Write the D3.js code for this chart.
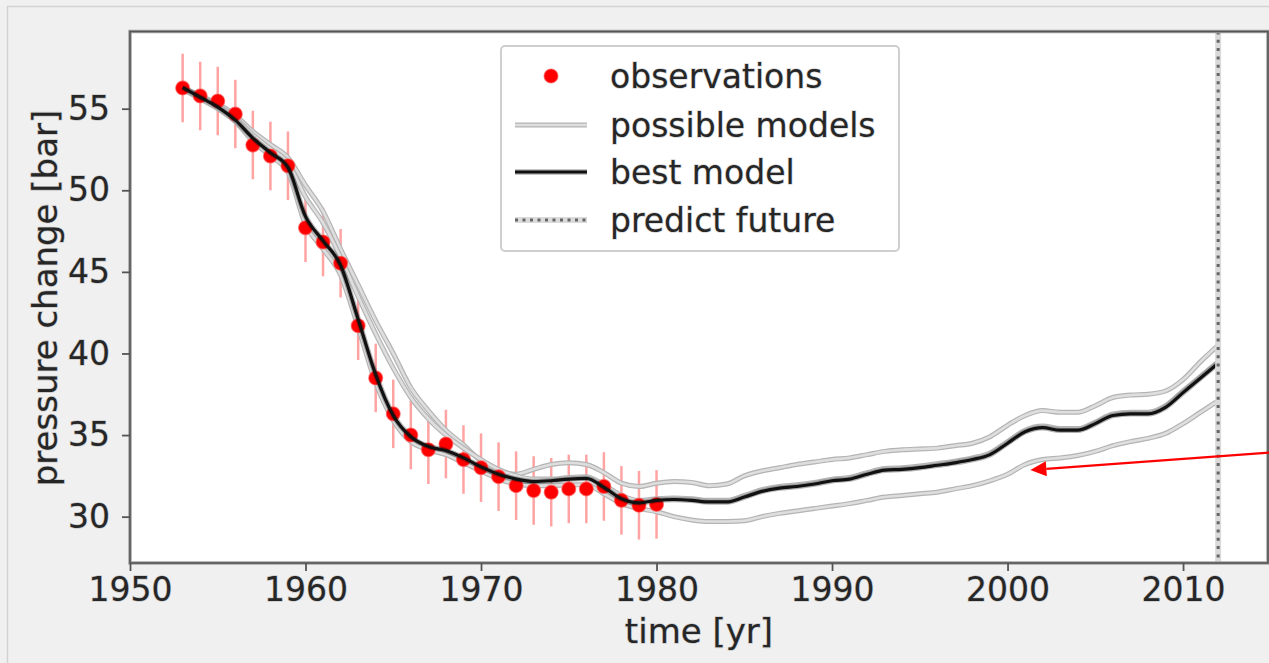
<!DOCTYPE html>
<html>
<head>
<meta charset="utf-8">
<script src="https://cdn.jsdelivr.net/npm/d3@7"></script>
<style>
  html, body { margin: 0; padding: 0; background: #f0f0f0; }
  svg { display: block; }
  text { font-family: "DejaVu Sans", sans-serif; fill: #262626; }
</style>
</head>
<body>
<div id="vis"></div>
<script>
// observations (bar) with error
var obsYears = [1953, 1954, 1955, 1956, 1957, 1958, 1959, 1960, 1961, 1962, 1963, 1964, 1965, 1966,
                1967, 1968, 1969, 1970, 1971, 1972, 1973, 1974, 1975, 1976, 1977, 1978, 1979, 1980];
var obsValues = [56.27, 55.78, 55.47, 54.67, 52.77, 52.1, 51.5, 47.7, 46.83, 45.53, 41.7, 38.5, 36.3, 35.0,
                 34.1, 34.45, 33.5, 33.0, 32.45, 31.9, 31.6, 31.5, 31.7, 31.7, 31.85, 31.0, 30.7, 30.75];
var obsErrors = [2.1, 2.1, 2.1, 2.1, 2.1, 2.1, 2.1, 2.1, 2.1, 2.1, 2.1, 2.1, 2.1, 2.1,
                 2.1, 2.1, 2.1, 2.1, 2.1, 2.1, 2.1, 2.1, 2.1, 2.1, 2.1, 2.1, 2.1, 2.1];

var modelYears = [1953, 1954, 1955, 1956, 1957, 1958, 1959, 1960, 1961, 1962, 1963, 1964, 1965, 1966, 1967,
                  1968, 1969, 1970, 1971, 1972, 1973, 1974, 1975, 1976, 1977, 1978, 1979, 1980, 1981, 1982,
                  1983, 1984, 1985, 1986, 1987, 1988, 1989, 1990, 1991, 1992, 1993, 1994, 1995, 1996, 1997,
                  1998, 1999, 2000, 2001, 2002, 2003, 2004, 2005, 2006, 2007, 2008, 2009, 2010, 2011, 2012];

var bestModel = [56.3, 55.7, 55.1, 54.3, 53.2, 52.3, 51.4, 48.4, 46.9, 45.4, 42.1, 38.7, 36.2, 34.9, 34.3,
                 34.05, 33.6, 33.05, 32.6, 32.3, 32.15, 32.2, 32.3, 32.35, 31.8, 31.1, 30.85, 31.0, 31.05, 31.0,
                 30.9, 30.9, 31.2, 31.55, 31.75, 31.85, 32.0, 32.2, 32.3, 32.6, 32.85, 32.9, 33.0, 33.15, 33.3,
                 33.5, 33.8, 34.5, 35.2, 35.45, 35.3, 35.3, 35.7, 36.2, 36.3, 36.3, 36.7, 37.6, 38.5, 39.4];

var modelUpper = [56.3, 55.8, 55.3, 54.6, 53.6, 52.8, 52.0, 50.3, 48.7, 46.4, 44.2, 42.0, 40.0, 37.9, 36.5,
                  35.3, 34.4, 33.4, 32.8, 32.6, 32.9, 33.2, 33.3, 33.2, 32.7, 32.05, 31.85, 32.05, 32.15, 32.1,
                  31.9, 32.0, 32.5, 32.8, 33.0, 33.2, 33.35, 33.5, 33.6, 33.8, 34.0, 34.1, 34.15, 34.2, 34.35,
                  34.5, 34.9, 35.6, 36.2, 36.5, 36.4, 36.4, 36.8, 37.3, 37.45, 37.5, 37.7, 38.4, 39.5, 40.5];

var modelMid = [56.3, 55.75, 55.2, 54.45, 53.4, 52.55, 51.7, 49.6, 48.0, 45.9, 43.5, 41.2, 39.1, 37.3, 36.0,
                35.0, 34.2, 33.5, 32.9, 32.5, 32.3, 32.3, 32.4, 32.45, 31.95, 31.3, 31.0, 31.1, 31.15, 31.1,
                31.0, 31.0, 31.3, 31.65, 31.85, 31.95, 32.1, 32.3, 32.4, 32.7, 32.95, 33.0, 33.1, 33.25, 33.4,
                33.6, 33.9, 34.6, 35.3, 35.55, 35.4, 35.4, 35.8, 36.3, 36.4, 36.4, 36.8, 37.7, 38.6, 39.5];

var modelLower = [56.2, 55.6, 55.0, 54.2, 53.0, 52.1, 51.1, 47.9, 46.4, 44.8, 41.6, 38.2, 35.9, 34.6, 34.1,
                  33.8, 33.3, 32.8, 32.3, 32.0, 31.9, 31.9, 31.95, 31.95, 31.4, 30.8, 30.5, 30.3, 30.0, 29.8,
                  29.7, 29.7, 29.75, 30.0, 30.2, 30.35, 30.5, 30.65, 30.8, 31.0, 31.2, 31.3, 31.4, 31.5, 31.7,
                  31.9, 32.2, 32.6, 33.2, 33.5, 33.6, 33.75, 34.0, 34.35, 34.6, 34.8, 35.1, 35.7, 36.4, 37.1];

var futureYear = 2012;
var xTicks = [1950, 1960, 1970, 1980, 1990, 2000, 2010];
var yTicks = [30, 35, 40, 45, 50, 55];
var legendLabels = ["observations", "possible models", "best model", "predict future"];
// arrow annotation: [year, value] of tail and head
var arrowTail = [2016.5, 34.05];
var arrowHead = [2001.3, 32.86];

(function(){
var width = 1269, height = 663;
var pLeft = 130, pRight = 1268, pTop = 31.5, pBottom = 563;

var svg = d3.select("#vis").append("svg").attr("width", width).attr("height", height);

svg.append("rect").attr("width", width).attr("height", height).attr("fill", "#f0f0f0");
// widget frame
svg.append("path").attr("d", "M7.5," + height + "V6.5H" + width)
   .attr("fill", "none").attr("stroke", "#d2d2d2").attr("stroke-width", 1.5);

var x = d3.scaleLinear().domain([1950, 2014.84]).range([pLeft, pRight]);
var y = d3.scaleLinear().domain([27.16, 59.73]).range([pBottom, pTop]);

svg.append("rect").attr("x", pLeft).attr("y", pTop).attr("width", pRight - pLeft).attr("height", pBottom - pTop)
   .attr("fill", "#fff");

svg.append("clipPath").attr("id", "clip").append("rect")
   .attr("x", pLeft).attr("y", pTop).attr("width", pRight - pLeft).attr("height", pBottom - pTop);

var plot = svg.append("g").attr("clip-path", "url(#clip)");

var obs = obsYears.map(function(d, i){ return {year: d, value: obsValues[i], err: obsErrors[i]}; });

// error bars
plot.selectAll(".errbar").data(obs).enter().append("line")
    .attr("class", "errbar")
    .attr("x1", function(d){ return x(d.year); })
    .attr("x2", function(d){ return x(d.year); })
    .attr("y1", function(d){ return y(d.value - d.err); })
    .attr("y2", function(d){ return y(d.value + d.err); })
    .attr("stroke", "#ffa3a3").attr("stroke-width", 2.5);

var line = d3.line()
    .curve(d3.curveMonotoneX)
    .x(function(d, i){ return x(modelYears[i]); })
    .y(function(d){ return y(d); });

[modelUpper, modelMid, modelLower].forEach(function(series){
  plot.append("path").datum(series).attr("d", line)
      .attr("fill", "none").attr("stroke", "#b4b4b4").attr("stroke-width", 5);
  plot.append("path").datum(series).attr("d", line)
      .attr("fill", "none").attr("stroke", "#dedede").attr("stroke-width", 2.6);
});

plot.selectAll(".obs").data(obs).enter().append("circle")
    .attr("class", "obs")
    .attr("cx", function(d){ return x(d.year); })
    .attr("cy", function(d){ return y(d.value); })
    .attr("r", 7)
    .attr("fill", "#ff0000")
    .attr("stroke", "rgba(255,90,90,0.6)").attr("stroke-width", 1.2);

plot.append("path").datum(bestModel).attr("d", line)
    .attr("fill", "none").attr("stroke", "rgba(0,0,0,0.3)").attr("stroke-width", 5.5);
plot.append("path").datum(bestModel).attr("d", line)
    .attr("fill", "none").attr("stroke", "#111").attr("stroke-width", 3.2);

// predict future line
plot.append("line").attr("x1", x(futureYear)).attr("x2", x(futureYear)).attr("y1", pTop).attr("y2", pBottom)
    .attr("stroke", "#dadada").attr("stroke-width", 6);
plot.append("line").attr("x1", x(futureYear)).attr("x2", x(futureYear)).attr("y1", pTop).attr("y2", pBottom)
    .attr("stroke", "#666").attr("stroke-width", 3).attr("stroke-dasharray", "3,5.3");

// spines
svg.append("rect").attr("x", pLeft).attr("y", pTop).attr("width", pRight - pLeft).attr("height", pBottom - pTop)
   .attr("fill", "none").attr("stroke", "#a5a5a5").attr("stroke-width", 3.5);
svg.append("rect").attr("x", pLeft).attr("y", pTop).attr("width", pRight - pLeft).attr("height", pBottom - pTop)
   .attr("fill", "none").attr("stroke", "#555").attr("stroke-width", 1.6);

function haloText(sel, size){
  return sel.style("font-size", size + "px").attr("fill", "#262626")
    .attr("stroke", "rgba(0,0,0,0.18)").attr("stroke-width", 1.6).attr("paint-order", "stroke");
}

function styleAxis(g){
  g.select(".domain").remove();
  g.selectAll(".tick line").attr("stroke", "#555").attr("stroke-width", 1.8);
  haloText(g.selectAll(".tick text"), 33);
}

var xAxis = svg.append("g").attr("transform", "translate(0," + pBottom + ")")
   .call(d3.axisBottom(x).tickValues(xTicks).tickFormat(d3.format("d")).tickSize(8).tickPadding(5));
styleAxis(xAxis);
xAxis.selectAll(".tick text").attr("dy", "0.76em");

var yAxis = svg.append("g").attr("transform", "translate(" + pLeft + ",0)")
   .call(d3.axisLeft(y).tickValues(yTicks).tickSize(8).tickPadding(12));
styleAxis(yAxis);

haloText(svg.append("text").attr("x", (pLeft + pRight) / 2).attr("y", 643).attr("text-anchor", "middle")
   .text("time [yr]"), 34);
haloText(svg.append("text").attr("transform", "translate(57,298) rotate(-90)").attr("text-anchor", "middle")
   .text("pressure change [bar]"), 34);

// legend
var lg = svg.append("g");
lg.append("rect").attr("x", 501).attr("y", 46).attr("width", 398).attr("height", 205).attr("rx", 4)
  .attr("fill", "#fff").attr("stroke", "#cfcfcf").attr("stroke-width", 2);
var rowY = [76, 125, 172, 220];
legendLabels.forEach(function(label, i){
  var ry = rowY[i];
  if(i === 0){
    lg.append("circle").attr("cx", 551).attr("cy", ry).attr("r", 7).attr("fill", "#f00")
      .attr("stroke", "rgba(255,90,90,0.6)").attr("stroke-width", 1.2);
  } else if(i === 1){
    lg.append("line").attr("x1", 515).attr("x2", 587).attr("y1", ry).attr("y2", ry)
      .attr("stroke", "#b4b4b4").attr("stroke-width", 5);
    lg.append("line").attr("x1", 515).attr("x2", 587).attr("y1", ry).attr("y2", ry)
      .attr("stroke", "#dedede").attr("stroke-width", 2.6);
  } else if(i === 2){
    lg.append("line").attr("x1", 515).attr("x2", 587).attr("y1", ry).attr("y2", ry)
      .attr("stroke", "rgba(0,0,0,0.3)").attr("stroke-width", 5.5);
    lg.append("line").attr("x1", 515).attr("x2", 587).attr("y1", ry).attr("y2", ry)
      .attr("stroke", "#111").attr("stroke-width", 3.2);
  } else {
    lg.append("line").attr("x1", 515).attr("x2", 587).attr("y1", ry).attr("y2", ry)
      .attr("stroke", "#dadada").attr("stroke-width", 6);
    lg.append("line").attr("x1", 515).attr("x2", 587).attr("y1", ry).attr("y2", ry)
      .attr("stroke", "#666").attr("stroke-width", 3).attr("stroke-dasharray", "3,4.5");
  }
  haloText(lg.append("text").attr("x", 610).attr("y", ry).attr("dy", "0.36em").text(label), 33);
});

// red arrow annotation
var tx = x(arrowTail[0]), ty = y(arrowTail[1]);
var hx = x(arrowHead[0]), hy = y(arrowHead[1]);
var ang = Math.atan2(hy - ty, hx - tx);
var headLen = 16, headW = 7.5;
var bx = hx - headLen * Math.cos(ang), by = hy - headLen * Math.sin(ang);
svg.append("line").attr("x1", tx).attr("y1", ty).attr("x2", bx).attr("y2", by)
   .attr("stroke", "#f00").attr("stroke-width", 2.2);
svg.append("path")
   .attr("d", "M" + hx + "," + hy +
              "L" + (bx + headW * Math.sin(ang)) + "," + (by - headW * Math.cos(ang)) +
              "L" + (bx - headW * Math.sin(ang)) + "," + (by + headW * Math.cos(ang)) + "Z")
   .attr("fill", "#f00");
})();
</script>
</body>
</html>
